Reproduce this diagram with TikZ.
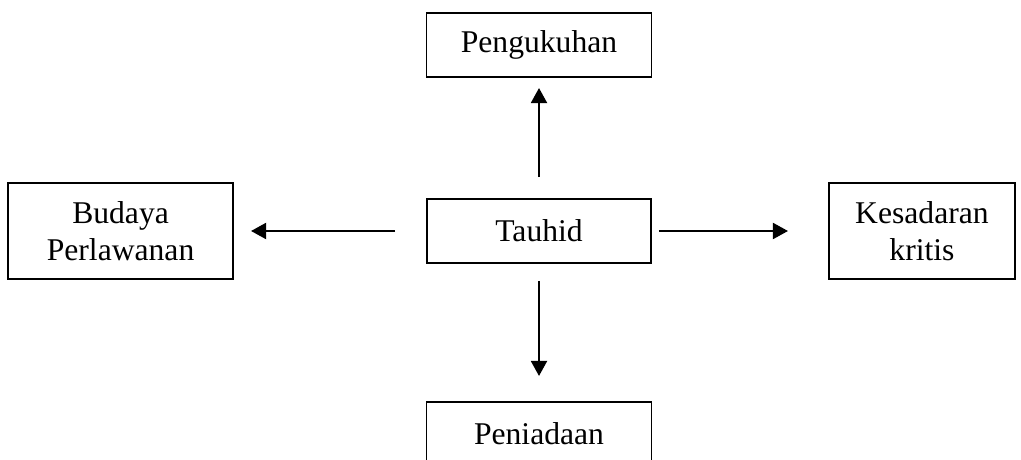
\documentclass[tikz,border=0pt]{standalone}
\usepackage{fontspec}
\setmainfont{Liberation Serif}
\usetikzlibrary{positioning,arrows.meta}
\tikzset{>={Triangle[length=0.3cm,width=0.32cm]}}
\tikzset{kotak/.style={draw,line width=1.1pt,minimum width=4.5cm,minimum height=1.28cm,align=center,inner sep=0pt,font=\fontsize{18}{21}\selectfont}}

\begin{document}
\begin{tikzpicture}[line width=1.1pt]
            \useasboundingbox (0,0) rectangle (20.42,9.18);
            \node [kotak,minimum width=4.48cm] (tauhid) at (10.78,4.56) {Tauhid};
            \node [kotak,above=2.4cm of tauhid] (pengukuhan) {Pengukuhan};
            \node [kotak,below=2.74cm of tauhid] (peniadaan) {Peniadaan};
            \node [kotak,minimum height=1.93cm,left=3.84cm of tauhid] (budaya) {Budaya\\Perlawanan};
            \node [kotak,minimum width=3.72cm,minimum height=1.93cm,right=3.52cm of tauhid] (kesadaran) {Kesadaran\\kritis};
            \draw [->,shorten <=0.42cm,shorten >=0.2cm] (tauhid) -- (pengukuhan);
            \draw [->,shorten <=0.34cm,shorten >=0.5cm] (tauhid) -- (peniadaan);
            \draw [->,shorten <=0.62cm,shorten >=0.34cm] (tauhid) -- (budaya);
            \draw [->,shorten <=0.14cm,shorten >=0.8cm] (tauhid) -- (kesadaran);
         \end{tikzpicture}
\end{document}
